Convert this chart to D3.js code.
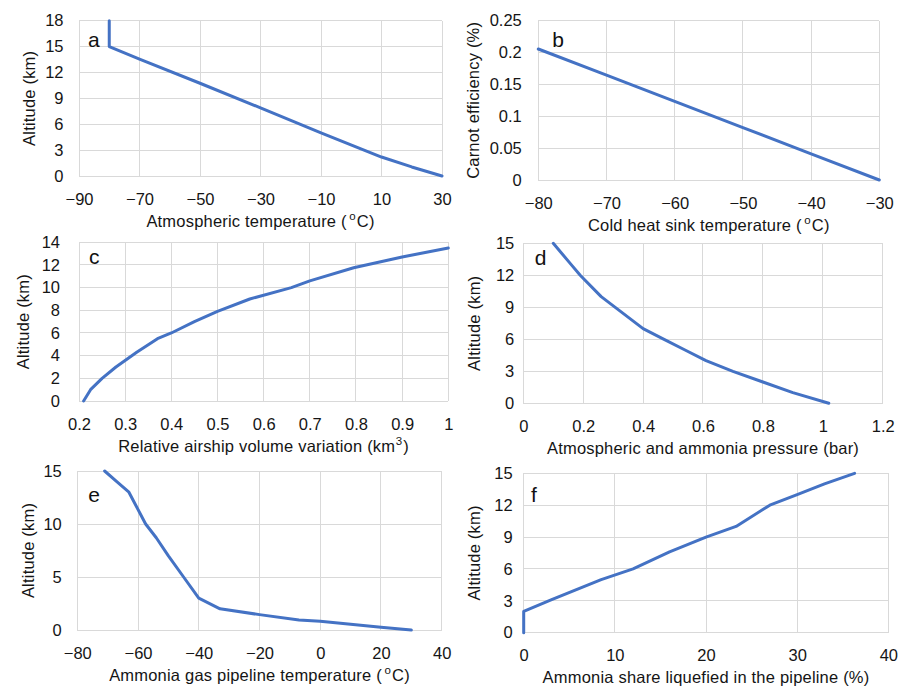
<!DOCTYPE html>
<html>
<head>
<meta charset="utf-8">
<script src="https://cdn.jsdelivr.net/npm/d3@7"></script>
<style>
  html, body { margin: 0; padding: 0; background: #fff; }
  svg { display: block; font-family: "Liberation Sans", Arial, sans-serif; }
  .tick text { fill: #151515; font-size: 16.5px; }
  .title { fill: #151515; font-size: 16.5px; letter-spacing: 0.2px; }
</style>
</head>
<body>
<svg id="fig" width="902" height="687"></svg>
<script>
// (a) atmospheric temperature profile
const atmTemp = [30, 20, 10, -10, -30, -50, -70, -80, -80];
const atmAlt  = [0, 1.05, 2.2, 5.0, 7.9, 10.75, 13.55, 15, 18];
const aXTicks = [-90, -70, -50, -30, -10, 10, 30];
const aYTicks = [0, 3, 6, 9, 12, 15, 18];

// (b) Carnot efficiency vs cold heat sink temperature
const sinkTemp  = [-80, -70, -60, -50, -40, -30];
const carnotEff = [0.2056, 0.1645, 0.1234, 0.0823, 0.0411, 0];
const bXTicks = [-80, -70, -60, -50, -40, -30];
const bYTicks = [0, 0.05, 0.1, 0.15, 0.2, 0.25];

// (c) relative airship volume variation
const volVar = [0.21, 0.225, 0.25, 0.28, 0.325, 0.37, 0.40, 0.45, 0.50, 0.57, 0.66, 0.70, 0.795, 0.90, 1.0];
const volAlt = [0, 1, 2, 3, 4.3, 5.5, 6, 7, 7.9, 9, 10, 10.6, 11.75, 12.7, 13.5];
const cXTicks = [0.2, 0.3, 0.4, 0.5, 0.6, 0.7, 0.8, 0.9, 1];
const cYTicks = [0, 2, 4, 6, 8, 10, 12, 14];

// (d) atmospheric and ammonia pressure
const pressure = [1.02, 0.90, 0.80, 0.70, 0.61, 0.54, 0.47, 0.40, 0.26, 0.19, 0.16, 0.10];
const presAlt  = [0, 1, 2, 3, 4, 5, 6, 7, 10, 12, 13, 15];
const dXTicks = [0, 0.2, 0.4, 0.6, 0.8, 1, 1.2];
const dYTicks = [0, 3, 6, 9, 12, 15];

// (e) ammonia gas pipeline temperature
const pipeTemp = [30, 20, 10, 0, -7, -20, -33, -40, -45, -50, -54, -57.5, -63, -67, -71];
const pipeAlt  = [0, 0.27, 0.55, 0.82, 0.95, 1.45, 2, 3, 5, 7, 8.7, 10, 13, 14, 15];
const eXTicks = [-80, -60, -40, -20, 0, 20, 40];
const eYTicks = [0, 5, 10, 15];

// (f) ammonia share liquefied in the pipeline
const liqShare = [0, 0, 3, 8.5, 12, 16, 20, 23.3, 27, 30, 33, 36.3];
const liqAlt   = [0, 2, 3.1, 5, 6, 7.6, 9, 10, 12, 13, 14, 15];
const fXTicks = [0, 10, 20, 30, 40];
const fYTicks = [0, 3, 6, 9, 12, 15];

const altTitle = [["Altitude (km)"]];
const degC = name => [[name + " ("], ["o", "sup", 2.5], ["C)", "base"]];

const panels = [
  { id: "a", xs: atmTemp, ys: atmAlt, xTicks: aXTicks, yTicks: aYTicks,
    box: [79, 20.7, 442, 176], tickGap: 15.5, yTitleX: 35, lab: [9, 26],
    xTitle: degC("Atmospheric temperature"), yTitle: altTitle },
  { id: "b", xs: sinkTemp, ys: carnotEff, xTicks: bXTicks, yTicks: bYTicks,
    box: [538.3, 20.7, 879.3, 180], tickGap: 16.5, yTitleX: 479, lab: [14, 26],
    xTitle: degC("Cold heat sink temperature"), yTitle: [["Carnot efficiency (%)"]] },
  { id: "c", xs: volVar, ys: volAlt, xTicks: cXTicks, yTicks: cYTicks,
    box: [79, 242.3, 448.3, 401], tickGap: 19, yTitleX: 29, lab: [10, 21.7],
    xTitle: [["Relative airship volume variation (km"], ["3", "sup", 0.5], [")", "base"]], yTitle: altTitle },
  { id: "d", xs: pressure, ys: presAlt, xTicks: dXTicks, yTicks: dYTicks,
    box: [523.3, 243.3, 882.7, 403.3], tickGap: 9, yTitleX: 480, lab: [11.5, 21.7],
    xTitle: [["Atmospheric and ammonia pressure (bar)"]], yTitle: altTitle },
  { id: "e", xs: pipeTemp, ys: pipeAlt, xTicks: eXTicks, yTicks: eYTicks,
    box: [77.3, 471, 441.7, 630], tickGap: 15.5, yTitleX: 34, lab: [11, 30.7],
    xTitle: degC("Ammonia gas pipeline temperature"), yTitle: altTitle },
  { id: "f", xs: liqShare, ys: liqAlt, xTicks: fXTicks, yTicks: fYTicks,
    box: [523.7, 473.3, 888.3, 632.7], tickGap: 11, yTitleX: 480, lab: [7.3, 28.4],
    xTitle: [["Ammonia share liquefied in the pipeline (%)"]], yTitle: altTitle }
];

const svg = d3.select("#fig");
svg.append("rect").attr("width", 902).attr("height", 687).attr("fill", "#fff");

const fmt = d => String(+d.toFixed(3)).replace("-", "\u2212");

// text built from plain and superscript pieces
function addRich(textSel, parts) {
  parts.forEach(([str, kind, dx]) => {
    const t = textSel.append("tspan").text(str);
    if (kind === "sup") t.attr("font-size", "11.5px").attr("dy", "-6.5").attr("dx", dx);
    else if (kind === "base") t.attr("dy", "6.5").attr("dx", "1");
  });
}

panels.forEach(p => {
  const [x0, y0, x1, y1] = p.box;
  const w = x1 - x0, h = y1 - y0;
  const x = d3.scaleLinear()
    .domain([p.xTicks[0], p.xTicks[p.xTicks.length - 1]]).range([0, w]);
  const y = d3.scaleLinear()
    .domain([p.yTicks[0], p.yTicks[p.yTicks.length - 1]]).range([h, 0]);

  const g = svg.append("g").attr("transform", `translate(${x0},${y0})`);

  // gridlines
  g.append("g").selectAll("line").data(p.xTicks).join("line")
    .attr("x1", d => x(d)).attr("x2", d => x(d)).attr("y1", 0).attr("y2", h)
    .attr("stroke", "#d9d9d9").attr("stroke-width", 1).attr("shape-rendering", "crispEdges");
  g.append("g").selectAll("line").data(p.yTicks).join("line")
    .attr("y1", d => y(d)).attr("y2", d => y(d)).attr("x1", 0).attr("x2", w)
    .attr("stroke", "#d9d9d9").attr("stroke-width", 1).attr("shape-rendering", "crispEdges");

  // axes (labels only)
  const xa = g.append("g").attr("transform", `translate(0,${h})`)
    .call(d3.axisBottom(x).tickValues(p.xTicks).tickSize(0).tickPadding(17).tickFormat(fmt));
  xa.select(".domain").remove();
  const ya = g.append("g")
    .call(d3.axisLeft(y).tickValues(p.yTicks).tickSize(0).tickPadding(p.tickGap).tickFormat(fmt));
  ya.select(".domain").remove();
  g.selectAll("g").attr("font-family", null).attr("font-size", null);

  // data line
  const pts = p.xs.map((v, i) => [v, p.ys[i]]);
  g.append("path").datum(pts)
    .attr("fill", "none").attr("stroke", "#4472c4").attr("stroke-width", 3)
    .attr("stroke-linejoin", "round").attr("stroke-linecap", "round")
    .attr("d", d3.line().x(d => x(d[0])).y(d => y(d[1])));

  // panel letter
  g.append("text").attr("x", p.lab[0]).attr("y", p.lab[1])
    .attr("font-size", "21px").attr("fill", "#111").text(p.id);

  // x-axis title
  const xt = svg.append("text").attr("class", "title")
    .attr("x", x0 + w / 2).attr("y", y1 + 50.5)
    .attr("text-anchor", "middle");
  addRich(xt, p.xTitle);

  // y-axis title
  const yt = svg.append("text").attr("class", "title")
    .attr("transform", `translate(${p.yTitleX},${y0 + h / 2}) rotate(-90)`)
    .attr("text-anchor", "middle");
  addRich(yt, p.yTitle);
});
</script>
</body>
</html>
